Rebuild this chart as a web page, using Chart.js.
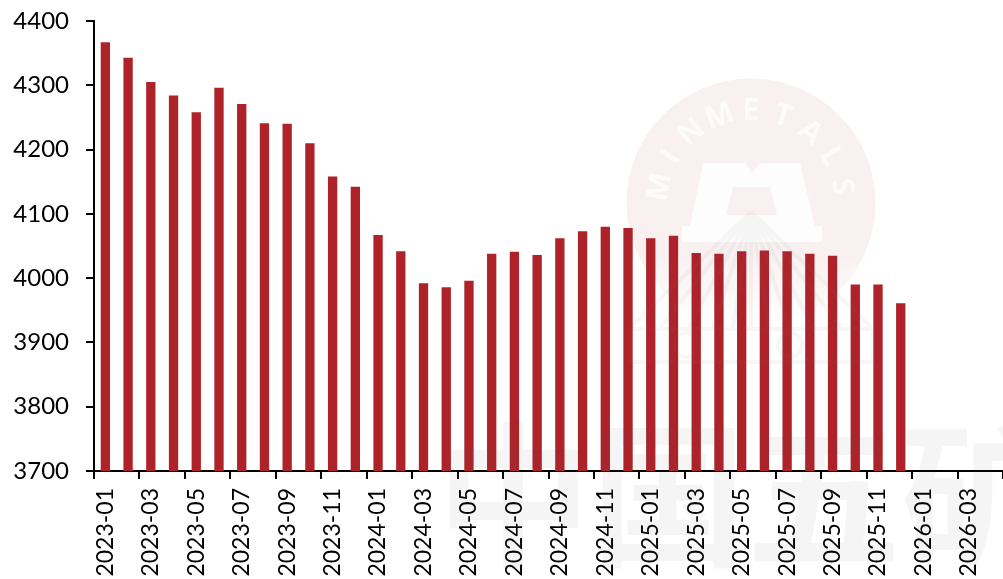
<!DOCTYPE html>
<html>
<head>
<meta charset="utf-8">
<title>Monthly chart</title>
<script src="https://cdn.jsdelivr.net/npm/chart.js@4"></script>
<style>
    html, body { margin: 0; padding: 0; background: #ffffff; }
    canvas { display: block; }
</style>
</head>
<body>
<canvas id="chart" width="1003" height="579"></canvas>
<script>
const months = [
    '2023-01', '2023-02', '2023-03', '2023-04', '2023-05', '2023-06', '2023-07', '2023-08', '2023-09', '2023-10',
    '2023-11', '2023-12', '2024-01', '2024-02', '2024-03', '2024-04', '2024-05', '2024-06', '2024-07', '2024-08',
    '2024-09', '2024-10', '2024-11', '2024-12', '2025-01', '2025-02', '2025-03', '2025-04', '2025-05', '2025-06',
    '2025-07', '2025-08', '2025-09', '2025-10', '2025-11', '2025-12', '2026-01', '2026-02', '2026-03', '2026-04'
];
const values = [
    4367, 4343, 4305, 4284, 4258, 4296, 4271, 4241, 4240, 4210,
    4158, 4142, 4067, 4042, 3992, 3986, 3996, 4038, 4041, 4036,
    4062, 4073, 4080, 4078, 4062, 4066, 4039, 4038, 4042, 4043,
    4042, 4038, 4035, 3990, 3990, 3961
];
const logoLetters = ['M', 'I', 'N', 'M', 'E', 'T', 'A', 'L', 'S'];
const stampText = '中国五矿';

function polygon(ctx, pts) {
    ctx.beginPath();
    pts.forEach((p, i) => i ? ctx.lineTo(p[0], p[1]) : ctx.moveTo(p[0], p[1]));
    ctx.closePath();
    ctx.fill();
}

// Faint logo behind the bars
const logoBack = {
    id: 'logoBack',
    beforeDatasetsDraw(chart) {
        const ctx = chart.ctx;
        const cx = 751, cy = 203;
        ctx.save();
        const fade = ctx.createLinearGradient(0, 255, 0, 330);
        fade.addColorStop(0, '#f9f1f1');
        fade.addColorStop(1, '#ffffff');
        ctx.fillStyle = fade;
        ctx.beginPath();
        ctx.arc(cx, cy, 124.5, 0, Math.PI * 2);
        ctx.fill();

        ctx.fillStyle = '#fdfdfd';
        polygon(ctx, [[703, 163], [745, 163], [752, 173], [760, 163], [800, 163], [815, 226],
            [822, 226], [822, 242], [682, 242], [682, 226], [690, 226]]);
        ctx.fillStyle = '#f9f1f1';
        polygon(ctx, [[733, 187], [770, 187], [777, 215], [726, 215]]);

        ctx.fillStyle = '#fdfbfb';
        ctx.font = 'bold 30px "Open Sans"';
        ctx.textAlign = 'center';
        ctx.textBaseline = 'middle';
        logoLetters.forEach((ch, i) => {
            const a = (-170 + i * 20) * Math.PI / 180;
            ctx.save();
            ctx.translate(cx + Math.cos(a) * 92, cy + Math.sin(a) * 92);
            ctx.rotate(a + Math.PI / 2);
            ctx.fillText(ch, 0, 0);
            ctx.restore();
        });
        ctx.restore();
    }
};

// Grey stamp and the roof lines lie over the bars
const logoFront = {
    id: 'logoFront',
    afterDatasetsDraw(chart) {
        const ctx = chart.ctx;
        const cx = 751, top = 212;
        ctx.save();
        ctx.strokeStyle = 'rgba(120, 120, 120, 0.06)';
        ctx.lineWidth = 4;
        ctx.beginPath();
        [-120, -90, -62, -38, -18, 0, 18, 38, 62, 90, 120].forEach(dx => {
            ctx.moveTo(cx, top);
            ctx.lineTo(cx + dx, 327);
        });
        ctx.rect(630, 329, 243, 33);
        ctx.moveTo(699, 345);
        ctx.arc(687, 345, 12, 0, Math.PI * 2);
        ctx.moveTo(802, 345);
        ctx.arc(790, 345, 12, 0, Math.PI * 2);
        ctx.stroke();

        ctx.fillStyle = 'rgba(90, 90, 90, 0.06)';
        ctx.font = '600 155px "Noto Sans CJK SC"';
        ctx.textAlign = 'left';
        ctx.textBaseline = 'top';
        ctx.fillText(stampText, 436, 418);
        ctx.restore();
    }
};

new Chart(document.getElementById('chart'), {
    type: 'bar',
    data: {
        labels: months,
        datasets: [{
            data: values,
            backgroundColor: '#ae2329',
            categoryPercentage: 1,
            barPercentage: 0.41
        }]
    },
    plugins: [logoBack, logoFront],
    options: {
        responsive: false,
        animation: false,
        layout: { padding: { top: 21, left: 0, right: 0, bottom: 0 } },
        plugins: { legend: { display: false }, tooltip: { enabled: false } },
        scales: {
            x: {
                afterFit(scale) {
                    scale.height = 108;
                    scale.paddingRight = 0;
                    scale.paddingLeft = 0;
                },
                border: { color: '#000000', width: 2 },
                grid: {
                    drawOnChartArea: false,
                    tickLength: 8,
                    lineWidth: 2,
                    tickColor: (c) => (c.index === undefined || c.index % 2 === 0) ? '#000000' : 'rgba(0,0,0,0)'
                },
                ticks: {
                    autoSkip: false,
                    minRotation: 90,
                    maxRotation: 90,
                    padding: 9,
                    color: '#000000',
                    font: { family: 'Lato', size: 23 },
                    callback(value, index) {
                        return index % 2 === 0 ? this.getLabelForValue(value) : '';
                    }
                }
            },
            y: {
                min: 3700,
                max: 4400,
                afterFit(scale) {
                    scale.width = 94;
                    scale.paddingTop = 0;
                    scale.paddingBottom = 0;
                },
                border: { color: '#000000', width: 2 },
                grid: { drawOnChartArea: false, tickLength: 8, lineWidth: 2, tickColor: '#000000' },
                ticks: {
                    stepSize: 100,
                    padding: 17,
                    color: '#000000',
                    font: { family: 'Lato', size: 24 },
                    callback: (value) => String(value)
                }
            }
        }
    }
});
</script>
</body>
</html>
